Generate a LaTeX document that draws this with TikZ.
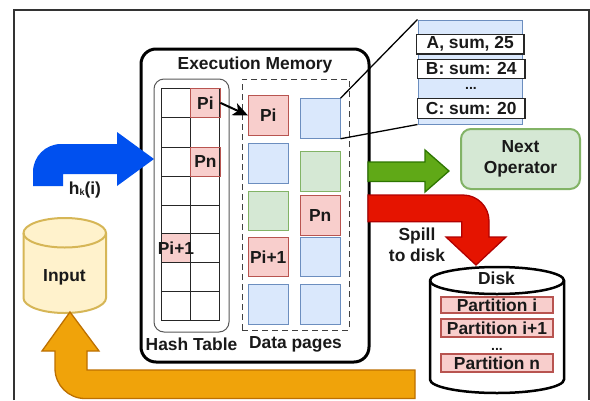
\documentclass[tikz,border=0pt]{standalone}
\usepackage{fontspec}
\usetikzlibrary{arrows.meta}
\setmainfont{Liberation Sans}
\definecolor{pageblue}{HTML}{DAE8FC}\definecolor{pageblueL}{HTML}{6C8EBF}
\definecolor{pagegreen}{HTML}{D5E8D4}\definecolor{pagegreenL}{HTML}{82B366}
\definecolor{pagered}{HTML}{F8CECC}\definecolor{pageredL}{HTML}{B85450}
\definecolor{inY}{HTML}{FFF2CC}\definecolor{inYL}{HTML}{D6B656}
\definecolor{HTMLgreen}{HTML}{60A917}\definecolor{HTMLgreenL}{HTML}{2D7600}
\definecolor{HTMLred}{HTML}{E51400}\definecolor{HTMLredL}{HTML}{B20000}
\definecolor{HTMLblue}{HTML}{0050EF}
\definecolor{HTMLorange}{HTML}{F0A30A}\definecolor{HTMLorangeL}{HTML}{BD7000}
\tikzset{
  lbl/.style={font=\bfseries\fontsize{17.4}{18}\selectfont,inner sep=0pt,text=black!90},
  dots/.style={font=\bfseries\fontsize{14}{14}\selectfont,inner sep=0pt,text=black!90,text height=2pt,text depth=0pt,anchor=south},
  pg/.style={lbl,draw,line width=1pt,minimum width=39.5pt,minimum height=39.5pt},
  bluep/.style={pg,fill=pageblue,draw=pageblueL},
  greenp/.style={pg,fill=pagegreen,draw=pagegreenL},
  redp/.style={pg,fill=pagered,draw=pageredL},
  cellr/.style={lbl,fill=pagered,draw=none,minimum width=29.5pt,minimum height=29.3pt},
  row/.style={lbl,draw=black!85,fill=white,line width=1.2pt,minimum width=107.5pt,minimum height=19.5pt},
  part/.style={lbl,draw=pageredL,fill=pagered,line width=2pt,minimum width=112pt},
  bigarrow/.style={line width=1.3pt,line join=miter},
}
\begin{document}
\begin{tikzpicture}[x=1pt,y=-1pt]
\useasboundingbox (0,0) rectangle (590,400);
\fill[white] (0,0) rectangle (590,400);
\draw[black!80,line width=1.3pt] (14,400) -- (14,10) -- (589,10) -- (589,400);
% Input cylinder
\draw[draw=inYL,fill=inY,line width=2pt] (23.5,233) -- (23.5,298) arc[start angle=180,end angle=0,x radius=41.25,y radius=15] -- (106,233) arc[start angle=0,end angle=-180,x radius=41.25,y radius=15] -- cycle;
\draw[draw=inYL,line width=2pt] (23.5,233) arc[start angle=180,end angle=0,x radius=41.25,y radius=14.5];
\node[lbl] (input) at (64.5,277) {Input};
% Execution memory
\node[draw=black,line width=3pt,rounded corners=15pt,minimum width=228pt,minimum height=313pt,inner sep=0pt] (mem) at (255,205.5) {};
\node[lbl] (memt) at (255,65) {Execution Memory};
\node[draw=black!65,line width=1pt,rounded corners=10pt,minimum width=75pt,minimum height=253pt,inner sep=0pt] (ht) at (191.5,205.5) {};
\node[draw=black!75,dash pattern=on 6pt off 4pt,line width=1pt,minimum width=107pt,minimum height=251pt,inner sep=0pt] (dp) at (295.5,204.5) {};
\node[lbl] (htt) at (191.5,344) {Hash Table};
\node[lbl] (dpt) at (295.5,344) {Data pages};
% Grid
\node[cellr,anchor=north west] (hpi) at (190.5,88) {};
\node[cellr,anchor=north west] (hpn) at (190.5,147) {};
\node[cellr,anchor=north west,minimum height=29pt] (hpj) at (161,233) {};
\draw[black!85,line width=1pt] (161,88) rectangle (219.5,320)
  (190.5,88) -- (190.5,320)
  (161,117.5) -- (219.5,117.5) (161,147) -- (219.5,147) (161,176) -- (219.5,176)
  (161,205) -- (219.5,205) (161,233) -- (219.5,233) (161,262) -- (219.5,262) (161,291) -- (219.5,291);
\draw[pageredL,line width=.8pt] (hpi.north west) rectangle (hpi.south east) (hpn.north west) rectangle (hpn.south east);
\node[lbl] at (hpi) {Pi};
\node[lbl] at (hpn) {Pn};
\node[lbl] at (hpj) {Pi+1};
% Pages
\node[redp]   (p1) at (268.25,115.5) {Pi};
\node[bluep]  (p2) at (320.25,118.5) {};
\node[bluep]  (p3) at (268.25,163.5) {};
\node[greenp] (p4) at (320.25,171.5) {};
\node[greenp] (p5) at (268.25,211) {};
\node[redp]   (p6) at (320.25,215.5) {Pn};
\node[redp]   (p7) at (268.25,257) {Pi+1};
\node[bluep]  (p8) at (320.25,257) {};
\node[bluep]  (p9) at (268.25,304.5) {};
\node[bluep]  (p10) at (320.25,304.5) {};
% Panel
\node[fill=pageblue,draw=pageblueL,line width=1pt,minimum width=104pt,minimum height=104pt,inner sep=0pt] (panel) at (470,72) {};
\node[row] (ra) at (470.25,44.25) {A, sum, 25};
\node[row] (rb) at (471.25,69) {B: sum: 24};
\node[dots] (rd) at (471,90) {...};
\node[row] (rc) at (471.25,108.5) {C: sum: 20};
\draw[black,line width=1.3pt] (p2.north east) -- (panel.north west);
\draw[black,line width=1.3pt] (p2.south east) -- (panel.south west);
\draw[black,line width=2pt,-{Stealth[length=15pt,width=13pt,inset=4pt]}] (hpi.east) -- (p1.west);
% Next
\node[lbl,draw=pagegreenL,fill=pagegreen,line width=2pt,rounded corners=10pt,minimum width=119pt,minimum height=60pt,align=center] (next) at (520.5,159) {Next\\[3pt]Operator};
% Disk
\draw[black,fill=white,line width=2.5pt] (430,280.5) -- (430,379.5) arc[start angle=180,end angle=0,x radius=67,y radius=13.5] -- (564,280.5) arc[start angle=0,end angle=-180,x radius=67,y radius=13.5] -- cycle;
\draw[black,line width=2.5pt] (430,280.5) arc[start angle=180,end angle=0,x radius=67,y radius=13.5];
\node[lbl] (disk) at (496.5,278) {Disk};
\node[part,minimum height=16pt] (d1) at (497,305) {Partition i};
\node[part,minimum height=18pt] (d2) at (497,328) {Partition i+1};
\node[dots] (d3) at (497,350.5) {...};
\node[part,minimum height=18pt] (d4) at (497,363) {Partition n};
% Arrows
\draw[bigarrow,fill=HTMLgreen,draw=HTMLgreenL] (368,162) -- (425,162) -- (425,150) -- (449,171) -- (425,192) -- (425,181.5) -- (368,181.5) -- cycle;
\draw[bigarrow,fill=HTMLred,draw=HTMLredL] (368,195) -- (463,195) arc[start angle=-90,end angle=0,radius=26] -- (489,237) -- (506,237) -- (476,265) -- (446,237) -- (461.7,237) -- (461.7,221.7) -- (368,221.7) -- cycle;
\fill[HTMLblue] (33,186) -- (33,172) arc[start angle=180,end angle=270,radius=28] -- (117,144) -- (117,132) -- (154,159) -- (117,186) -- (117,174) -- (63,174) -- (63,186) -- cycle;
\node[lbl] (hk) at (85,190) {h\raisebox{-1pt}{\fontsize{9}{9}\selectfont k}(i)};
\draw[bigarrow,fill=HTMLorange,draw=HTMLorangeL] (70,312) -- (99,351) -- (87,351) -- (87,370) -- (415,370) -- (415,398.5) -- (85,398.5) arc[start angle=90,end angle=180,radius=30] -- (55,351) -- (42,351) -- cycle;
\node[lbl,align=center] (spill) at (417,244.5) {Spill\\[3pt]to disk};
\end{tikzpicture}
\end{document}
